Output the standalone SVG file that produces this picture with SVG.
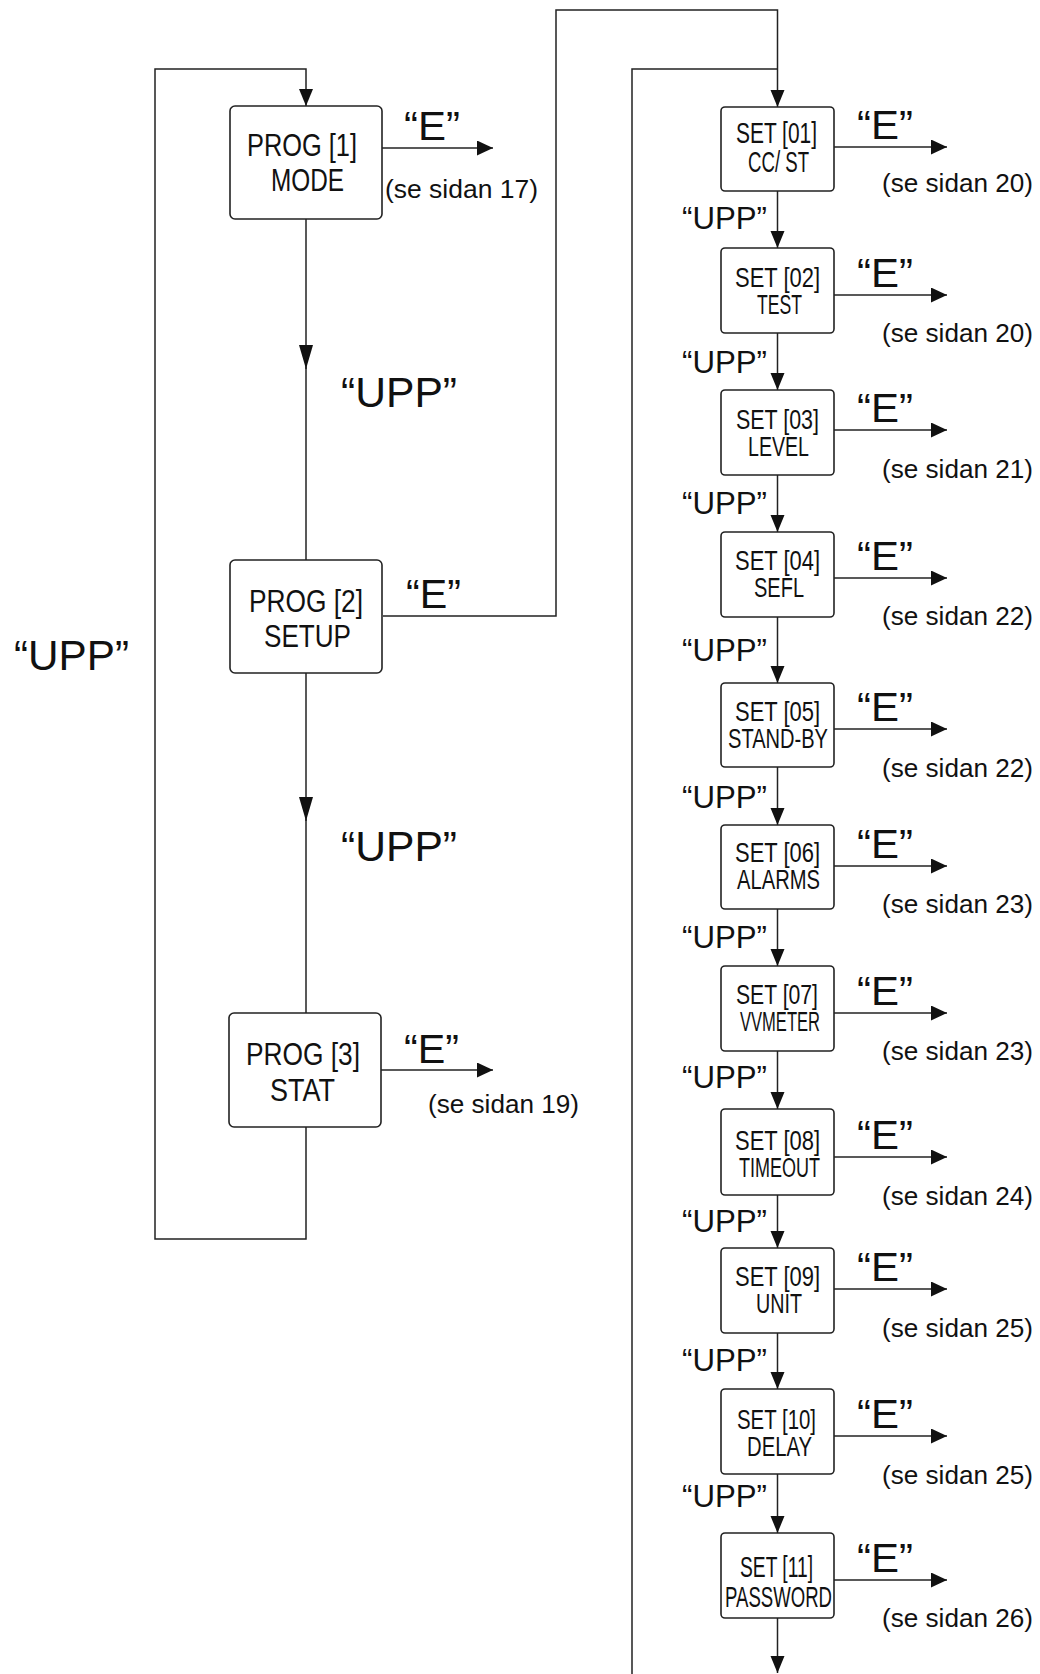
<svg xmlns="http://www.w3.org/2000/svg" width="1040" height="1674" viewBox="0 0 1040 1674">
<defs>
<style>
.box{fill:#fff;stroke:#222;stroke-width:1.6}
.ln{fill:none;stroke:#222;stroke-width:1.5}
text{font-family:"Liberation Sans",Arial,sans-serif;fill:#111}
.pl{font-size:32px}
.sl{font-size:27px}
.s1{font-size:29px}
.e{font-size:40px}
.upp{font-size:31px}
.bupp{font-size:42px}
.ref{font-size:26px}
</style>
<marker id="ah" markerUnits="userSpaceOnUse" markerWidth="17" markerHeight="16" refX="16" refY="7.5" orient="auto">
<path d="M0,0 L16,7.5 L0,15 z" fill="#111"/>
</marker>
<marker id="av" markerUnits="userSpaceOnUse" markerWidth="18" markerHeight="15" refX="17" refY="7" orient="auto">
<path d="M0,0 L17,7 L0,14 z" fill="#111"/>
</marker>
<marker id="al" markerUnits="userSpaceOnUse" markerWidth="25" markerHeight="15" refX="24" refY="7" orient="auto">
<path d="M0,0 L24,7 L0,14 z" fill="#111"/>
</marker>
</defs>
<rect x="0" y="0" width="1040" height="1674" fill="#fff"/>

<g id="connectors">
<path class="ln" d="M306,1127 V1239 H155 V69 H306 V106" marker-end="url(#av)"/>
<path class="ln" d="M306,219 V369" marker-end="url(#al)"/>
<path class="ln" d="M306,366 V560"/>
<path class="ln" d="M306,673 V821" marker-end="url(#al)"/>
<path class="ln" d="M306,818 V1013"/>
<path class="ln" d="M382,148 H493" marker-end="url(#ah)"/>
<path class="ln" d="M381,1070 H493" marker-end="url(#ah)"/>
<path class="ln" d="M383,616 H556 V10 H777.5 V107" marker-end="url(#av)"/>
<path class="ln" d="M632,1674 V69 H777.5"/>
<path class="ln" d="M777.5,191 V248" marker-end="url(#av)"/>
<path class="ln" d="M777.5,333 V390" marker-end="url(#av)"/>
<path class="ln" d="M777.5,475 V532" marker-end="url(#av)"/>
<path class="ln" d="M777.5,617 V683" marker-end="url(#av)"/>
<path class="ln" d="M777.5,767 V825" marker-end="url(#av)"/>
<path class="ln" d="M777.5,909 V966" marker-end="url(#av)"/>
<path class="ln" d="M777.5,1051 V1109" marker-end="url(#av)"/>
<path class="ln" d="M777.5,1195 V1248" marker-end="url(#av)"/>
<path class="ln" d="M777.5,1333 V1389" marker-end="url(#av)"/>
<path class="ln" d="M777.5,1474 V1533" marker-end="url(#av)"/>
<path class="ln" d="M777.5,1618 V1673" marker-end="url(#av)"/>
<path class="ln" d="M834,147 H947" marker-end="url(#ah)"/>
<path class="ln" d="M834,295 H947" marker-end="url(#ah)"/>
<path class="ln" d="M834,430 H947" marker-end="url(#ah)"/>
<path class="ln" d="M834,578 H947" marker-end="url(#ah)"/>
<path class="ln" d="M834,729 H947" marker-end="url(#ah)"/>
<path class="ln" d="M834,866 H947" marker-end="url(#ah)"/>
<path class="ln" d="M834,1013 H947" marker-end="url(#ah)"/>
<path class="ln" d="M834,1157 H947" marker-end="url(#ah)"/>
<path class="ln" d="M834,1289 H947" marker-end="url(#ah)"/>
<path class="ln" d="M834,1436 H947" marker-end="url(#ah)"/>
<path class="ln" d="M834,1580 H947" marker-end="url(#ah)"/>
</g>

<g id="labels">
<text class="bupp" x="14" y="670" textLength="115" lengthAdjust="spacingAndGlyphs">“UPP”</text>
<text class="bupp" x="341" y="407" textLength="116" lengthAdjust="spacingAndGlyphs">“UPP”</text>
<text class="bupp" x="341" y="861" textLength="116" lengthAdjust="spacingAndGlyphs">“UPP”</text>
<text class="e" x="404" y="140" textLength="56" lengthAdjust="spacingAndGlyphs">“E”</text>
<text class="ref" x="385" y="198" textLength="153" lengthAdjust="spacingAndGlyphs">(se sidan 17)</text>
<text class="e" x="406" y="608" textLength="55" lengthAdjust="spacingAndGlyphs">“E”</text>
<text class="e" x="404" y="1063" textLength="55" lengthAdjust="spacingAndGlyphs">“E”</text>
<text class="ref" x="428" y="1113" textLength="151" lengthAdjust="spacingAndGlyphs">(se sidan 19)</text>

<text class="upp" x="682" y="229" textLength="85" lengthAdjust="spacingAndGlyphs">“UPP”</text>
<text class="upp" x="682" y="373" textLength="85" lengthAdjust="spacingAndGlyphs">“UPP”</text>
<text class="upp" x="682" y="514" textLength="85" lengthAdjust="spacingAndGlyphs">“UPP”</text>
<text class="upp" x="682" y="661" textLength="85" lengthAdjust="spacingAndGlyphs">“UPP”</text>
<text class="upp" x="682" y="808" textLength="85" lengthAdjust="spacingAndGlyphs">“UPP”</text>
<text class="upp" x="682" y="948" textLength="85" lengthAdjust="spacingAndGlyphs">“UPP”</text>
<text class="upp" x="682" y="1088" textLength="85" lengthAdjust="spacingAndGlyphs">“UPP”</text>
<text class="upp" x="682" y="1232" textLength="85" lengthAdjust="spacingAndGlyphs">“UPP”</text>
<text class="upp" x="682" y="1371" textLength="85" lengthAdjust="spacingAndGlyphs">“UPP”</text>
<text class="upp" x="682" y="1507" textLength="85" lengthAdjust="spacingAndGlyphs">“UPP”</text>

<text class="e" x="857" y="139" textLength="56" lengthAdjust="spacingAndGlyphs">“E”</text>
<text class="e" x="857" y="287" textLength="56" lengthAdjust="spacingAndGlyphs">“E”</text>
<text class="e" x="857" y="422" textLength="56" lengthAdjust="spacingAndGlyphs">“E”</text>
<text class="e" x="857" y="570" textLength="56" lengthAdjust="spacingAndGlyphs">“E”</text>
<text class="e" x="857" y="721" textLength="56" lengthAdjust="spacingAndGlyphs">“E”</text>
<text class="e" x="857" y="858" textLength="56" lengthAdjust="spacingAndGlyphs">“E”</text>
<text class="e" x="857" y="1005" textLength="56" lengthAdjust="spacingAndGlyphs">“E”</text>
<text class="e" x="857" y="1149" textLength="56" lengthAdjust="spacingAndGlyphs">“E”</text>
<text class="e" x="857" y="1281" textLength="56" lengthAdjust="spacingAndGlyphs">“E”</text>
<text class="e" x="857" y="1428" textLength="56" lengthAdjust="spacingAndGlyphs">“E”</text>
<text class="e" x="857" y="1572" textLength="56" lengthAdjust="spacingAndGlyphs">“E”</text>

<text class="ref" x="882" y="192" textLength="151" lengthAdjust="spacingAndGlyphs">(se sidan 20)</text>
<text class="ref" x="882" y="342" textLength="151" lengthAdjust="spacingAndGlyphs">(se sidan 20)</text>
<text class="ref" x="882" y="478" textLength="151" lengthAdjust="spacingAndGlyphs">(se sidan 21)</text>
<text class="ref" x="882" y="625" textLength="151" lengthAdjust="spacingAndGlyphs">(se sidan 22)</text>
<text class="ref" x="882" y="777" textLength="151" lengthAdjust="spacingAndGlyphs">(se sidan 22)</text>
<text class="ref" x="882" y="913" textLength="151" lengthAdjust="spacingAndGlyphs">(se sidan 23)</text>
<text class="ref" x="882" y="1060" textLength="151" lengthAdjust="spacingAndGlyphs">(se sidan 23)</text>
<text class="ref" x="882" y="1205" textLength="151" lengthAdjust="spacingAndGlyphs">(se sidan 24)</text>
<text class="ref" x="882" y="1337" textLength="151" lengthAdjust="spacingAndGlyphs">(se sidan 25)</text>
<text class="ref" x="882" y="1484" textLength="151" lengthAdjust="spacingAndGlyphs">(se sidan 25)</text>
<text class="ref" x="882" y="1627" textLength="151" lengthAdjust="spacingAndGlyphs">(se sidan 26)</text>
</g>

<g id="prog1">
<rect class="box" x="230" y="106" width="152" height="113" rx="5"/>
<text class="pl"><tspan x="247" y="156" textLength="110" lengthAdjust="spacingAndGlyphs">PROG [1]</tspan><tspan x="271" y="191" textLength="73" lengthAdjust="spacingAndGlyphs">MODE</tspan></text>
</g>
<g id="prog2">
<rect class="box" x="230" y="560" width="152" height="113" rx="5"/>
<text class="pl"><tspan x="249" y="612" textLength="114" lengthAdjust="spacingAndGlyphs">PROG [2]</tspan><tspan x="264" y="647" textLength="87" lengthAdjust="spacingAndGlyphs">SETUP</tspan></text>
</g>
<g id="prog3">
<rect class="box" x="229" y="1013" width="152" height="114" rx="5"/>
<text class="pl"><tspan x="246" y="1065" textLength="114" lengthAdjust="spacingAndGlyphs">PROG [3]</tspan><tspan x="270" y="1101" textLength="65" lengthAdjust="spacingAndGlyphs">STAT</tspan></text>
</g>

<g id="set01">
<rect class="box" x="721" y="107" width="113" height="84" rx="4"/>
<text class="s1"><tspan x="736" y="143" textLength="81" lengthAdjust="spacingAndGlyphs">SET [01]</tspan><tspan x="748" y="172" textLength="61" lengthAdjust="spacingAndGlyphs">CC/ ST</tspan></text>
</g>
<g id="set02">
<rect class="box" x="721" y="248" width="113" height="85" rx="4"/>
<text class="sl"><tspan x="735" y="287" textLength="85" lengthAdjust="spacingAndGlyphs">SET [02]</tspan><tspan x="757" y="314" textLength="45" lengthAdjust="spacingAndGlyphs">TEST</tspan></text>
</g>
<g id="set03">
<rect class="box" x="721" y="390" width="113" height="85" rx="4"/>
<text class="sl"><tspan x="736" y="429" textLength="83" lengthAdjust="spacingAndGlyphs">SET [03]</tspan><tspan x="748" y="456" textLength="61" lengthAdjust="spacingAndGlyphs">LEVEL</tspan></text>
</g>
<g id="set04">
<rect class="box" x="721" y="532" width="113" height="85" rx="4"/>
<text class="sl"><tspan x="735" y="570" textLength="85" lengthAdjust="spacingAndGlyphs">SET [04]</tspan><tspan x="754" y="597" textLength="50" lengthAdjust="spacingAndGlyphs">SEFL</tspan></text>
</g>
<g id="set05">
<rect class="box" x="721" y="683" width="113" height="84" rx="4"/>
<text class="sl"><tspan x="735" y="721" textLength="85" lengthAdjust="spacingAndGlyphs">SET [05]</tspan><tspan x="728" y="748" textLength="100" lengthAdjust="spacingAndGlyphs">STAND-BY</tspan></text>
</g>
<g id="set06">
<rect class="box" x="721" y="825" width="113" height="84" rx="4"/>
<text class="sl"><tspan x="735" y="862" textLength="85" lengthAdjust="spacingAndGlyphs">SET [06]</tspan><tspan x="737" y="889" textLength="83" lengthAdjust="spacingAndGlyphs">ALARMS</tspan></text>
</g>
<g id="set07">
<rect class="box" x="721" y="966" width="113" height="85" rx="4"/>
<text class="sl"><tspan x="736" y="1004" textLength="82" lengthAdjust="spacingAndGlyphs">SET [07]</tspan><tspan x="740" y="1031" textLength="80" lengthAdjust="spacingAndGlyphs">VVMETER</tspan></text>
</g>
<g id="set08">
<rect class="box" x="721" y="1109" width="113" height="86" rx="4"/>
<text class="sl"><tspan x="735" y="1150" textLength="85" lengthAdjust="spacingAndGlyphs">SET [08]</tspan><tspan x="739" y="1177" textLength="81" lengthAdjust="spacingAndGlyphs">TIMEOUT</tspan></text>
</g>
<g id="set09">
<rect class="box" x="721" y="1248" width="113" height="85" rx="4"/>
<text class="sl"><tspan x="735" y="1286" textLength="85" lengthAdjust="spacingAndGlyphs">SET [09]</tspan><tspan x="756" y="1313" textLength="46" lengthAdjust="spacingAndGlyphs">UNIT</tspan></text>
</g>
<g id="set10">
<rect class="box" x="721" y="1389" width="113" height="85" rx="4"/>
<text class="sl"><tspan x="737" y="1429" textLength="79" lengthAdjust="spacingAndGlyphs">SET [10]</tspan><tspan x="747" y="1456" textLength="65" lengthAdjust="spacingAndGlyphs">DELAY</tspan></text>
</g>
<g id="set11">
<rect class="box" x="721" y="1533" width="113" height="85" rx="4"/>
<text class="s1"><tspan x="740" y="1577" textLength="73" lengthAdjust="spacingAndGlyphs">SET [11]</tspan><tspan x="725" y="1607" textLength="107" lengthAdjust="spacingAndGlyphs">PASSWORD</tspan></text>
</g>
</svg>
